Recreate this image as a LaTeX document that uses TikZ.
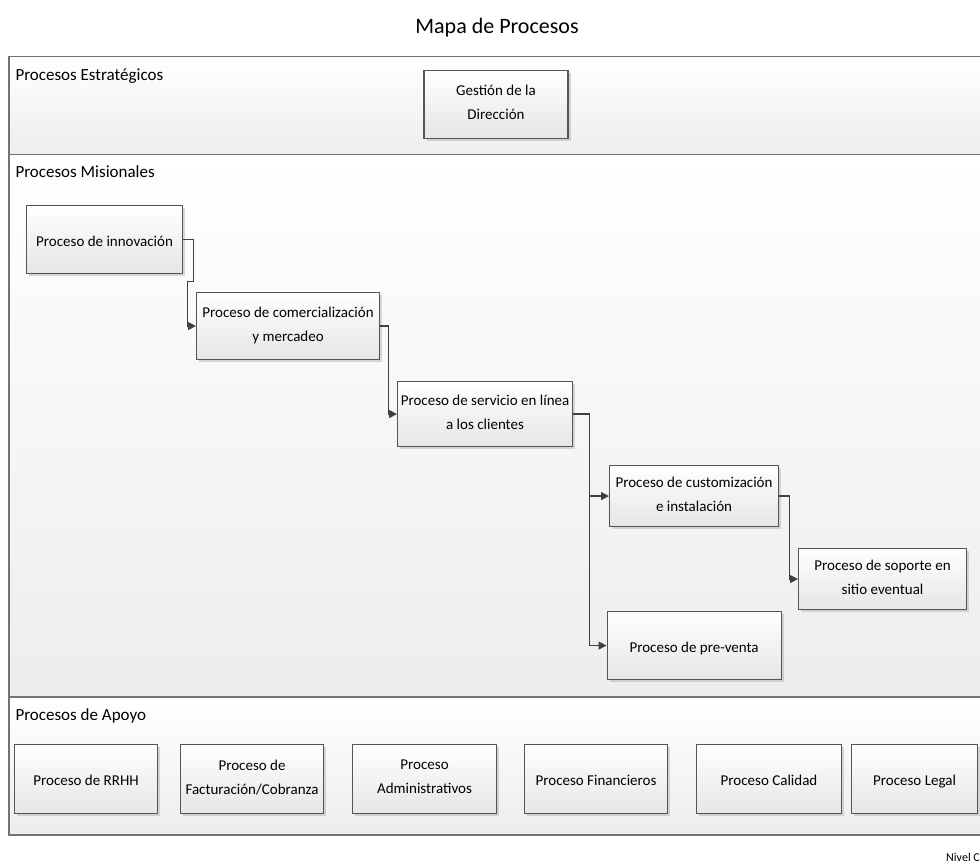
\documentclass[tikz,border=0pt]{standalone}
\usepackage{fontspec}
\setmainfont{Carlito}
\definecolor{mapline}{RGB}{64,64,64}
\definecolor{mapborder}{RGB}{85,85,85}
\definecolor{mapframe}{RGB}{115,115,115}
\usetikzlibrary{arrows.meta, positioning, shadows}
\newcommand{\boxstrut}{\rule[-4.1pt]{0pt}{22pt}}

\begin{document}
\begin{tikzpicture}[
  x=1pt, y=1pt, font=\fontsize{15}{24}\selectfont, node distance=20pt,
  box/.style={rectangle, draw=mapborder, line width=1.1pt, align=center, inner sep=2pt,
              top color=white, bottom color=black!10,
              execute at begin node=\boxstrut, execute at end node=\boxstrut,
              drop shadow={shadow xshift=2.5pt, shadow yshift=-2.5pt, fill=black!30}},
  lane/.style={rectangle, draw=mapframe, line width=1.5pt, anchor=north west,
               top color=white, bottom color=black!7, minimum width=982pt},
  hdr/.style={anchor=base west, font=\fontsize{17}{20}\selectfont},
  ar/.style={-{Triangle[length=8pt, width=8pt]}, draw=mapline, line width=1.2pt}]
\path[use as bounding box, clip] (0,0) rectangle (980,-864);
\node[font=\fontsize{22}{26}\selectfont, anchor=base] (title) at (497,-34) {Mapa de Procesos};
\node[lane, minimum height=98pt] (strat) at (8,-56) {};
\node[lane, minimum height=542pt] (mis) at (8,-154) {};
\node[lane, minimum height=138pt] (apoyo) at (8,-696) {};
\node[hdr] (hstrat) at (12,-81) {Procesos Estratégicos};
\node[hdr] (hmis) at (12,-178) {Procesos Misionales};
\node[hdr] (hapoyo) at (12,-720) {Procesos de Apoyo};
\node[box, minimum width=144pt, minimum height=68pt] (gest) at (496,-104.5) {Gestión de la\\Dirección};
\node[box, minimum width=156pt, minimum height=68pt, anchor=north west] (inno) at (26,-205) {Proceso de innovación};
\node[box, minimum width=183pt, minimum height=67pt, below right=17.9pt and 12.9pt of inno] (comer) {Proceso de comercialización\\y mercadeo};
\node[box, minimum width=175pt, minimum height=65pt, below right=20.9pt and 16.9pt of comer] (serv) {Proceso de servicio en línea\\a los clientes};
\node[box, minimum width=169pt, minimum height=61pt, below right=17.9pt and 35.9pt of serv] (cust) {Proceso de customización\\e instalación};
\node[box, minimum width=168pt, minimum height=61pt, below right=20.9pt and 18.9pt of cust] (sop) {Proceso de soporte en\\sitio eventual};
\node[box, minimum width=174pt, minimum height=68pt, below=83.9pt of cust] (pre) {Proceso de pre-venta};
\node[box, minimum width=143pt, minimum height=69pt, anchor=north west] (rrhh) at (14,-744) {Proceso de RRHH};
\node[box, minimum width=143pt, minimum height=69pt, right=21.9pt of rrhh] (fact) {Proceso de\\Facturación/Cobranza};
\node[box, minimum width=144pt, minimum height=69pt, right=27.9pt of fact] (admin) {Proceso\\Administrativos};
\node[box, minimum width=143pt, minimum height=69pt, right=26.9pt of admin] (fin) {Proceso Financieros};
\node[box, minimum width=145pt, minimum height=69pt, right=27.9pt of fin] (cal) {Proceso Calidad};
\node[box, minimum width=126pt, minimum height=69pt, right=8.9pt of cal] (legal) {Proceso Legal};
\node[anchor=base west, font=\fontsize{12}{14}\selectfont, inner sep=0pt] (nivel) at (946,-861) {Nivel C};
\draw[ar] (inno.east) -- ++(10pt,0) -- ++(0,-42pt) -- ++(-6pt,0) |- (comer.west);
\draw[ar] (comer.east) -- ++(8pt,0) |- (serv.west);
\draw[ar] (serv.east) -- ++(16pt,0) coordinate (fork) |- (cust.west);
\draw[ar] (fork) |- (pre.west);
\draw[ar] (cust.east) -- ++(10pt,0) |- (sop.west);
\end{tikzpicture}
\end{document}
